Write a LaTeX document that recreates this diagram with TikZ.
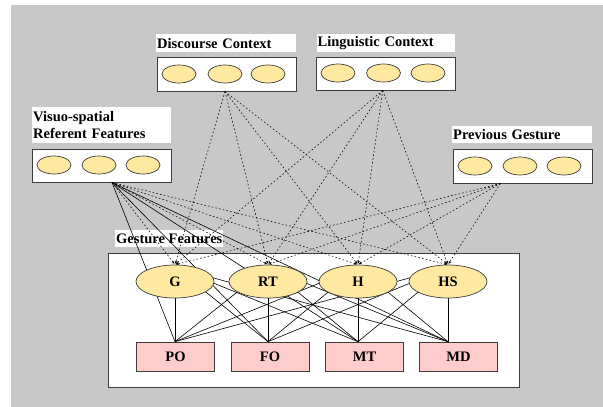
\documentclass[tikz,border=0pt]{standalone}
\usepackage{fontspec}
\setmainfont{Liberation Serif}
\usetikzlibrary{arrows.meta,shapes.geometric}
\definecolor{bggray}{RGB}{200,200,200}
\definecolor{ellfill}{RGB}{255,232,160}
\definecolor{recfill}{RGB}{255,204,204}
\definecolor{edge}{RGB}{60,60,60}
\tikzset{
  txt/.style={font=\bfseries\fontsize{14.5}{17.5}\selectfont},
  grp/.style={draw=edge, line width=1pt, fill=white, rectangle, inner sep=0pt},
  small/.style={ellipse, draw=edge, line width=0.7pt, fill=ellfill, minimum width=34pt, minimum height=18pt, inner sep=0pt},
  big/.style={ellipse, draw=edge, line width=0.7pt, fill=ellfill, minimum width=78pt, minimum height=33pt, inner sep=0pt, txt},
  recnode/.style={rectangle, draw=edge, line width=0.7pt, fill=recfill, minimum width=78pt, minimum height=29pt, inner sep=0pt, txt},
  lbl/.style={rectangle, fill=white, inner xsep=1pt, inner ysep=0pt, align=left, txt, anchor=north west},
  dashln/.style={line width=0.55pt, dash pattern=on 1.6pt off 2.2pt, -{Stealth[length=3pt,width=2.6pt]}, shorten >=1pt},
  solidln/.style={line width=0.6pt, black}
}
\begin{document}
\begin{tikzpicture}[x=1pt,y=-1pt]
\useasboundingbox (0,0) rectangle (603,407);
\fill[bggray] (11,5) rectangle (603,407);

% gesture features box
\node[grp, minimum width=411pt, minimum height=134pt] (gf) at (313.5,320) {};
\node[lbl, minimum height=17pt] (gfl) at (115,230) {Gesture Features};

% context boxes
\node[grp, minimum width=139pt, minimum height=34pt] (disc) at (226.5,74) {};
\node[grp, minimum width=138.5pt, minimum height=33pt] (ling) at (385.75,73.5) {};
\node[grp, minimum width=139pt, minimum height=33pt] (vs) at (101.5,165.5) {};
\node[grp, minimum width=139pt, minimum height=34pt] (pg) at (522.5,166) {};

\node[lbl, text width=138pt, minimum height=18pt] (discl) at (156,34) {Discourse Context};
\node[lbl, text width=136.5pt, minimum height=18pt] (lingl) at (316.5,34) {Linguistic Context};
\node[lbl, text width=137pt, minimum height=36pt] (vsl) at (32,107) {Visuo-spatial\\Referent Features};
\node[lbl, text width=138pt, minimum height=17pt] (pgl) at (452,126) {Previous Gesture};

% small ellipses
\node[small] (d1) at (179,74) {};
\node[small] (d2) at (225,74) {};
\node[small] (d3) at (268,74) {};
\node[small] (l1) at (338,73) {};
\node[small] (l2) at (383.5,73) {};
\node[small] (l3) at (428,73) {};
\node[small] (v1) at (54,165) {};
\node[small] (v2) at (99,165) {};
\node[small] (v3) at (143,165) {};
\node[small] (p1) at (475,166) {};
\node[small] (p2) at (520,166) {};
\node[small] (p3) at (564,166) {};

% source points
\coordinate (ds) at ([xshift=-1.5pt]disc.south);
\coordinate (ls) at ([xshift=-3pt]ling.south);
\coordinate (vss) at ([xshift=10.5pt]vs.south);
\coordinate (ps) at ([xshift=-22pt]pg.south);

% gesture nodes (positions)
\coordinate (Gc) at (175,281.5);
\coordinate (RTc) at (268,281.5);
\coordinate (Hc) at (358,281.5);
\coordinate (HSc) at (448,281.5);

\node[recnode] (PO) at (175.5,356.5) {PO};
\node[recnode] (FO) at (270,356.5) {FO};
\node[recnode] (MT) at (364.5,356.5) {MT};
\node[recnode] (MD) at (458.5,356.5) {MD};

\coordinate (POt) at (Gc |- PO.north);
\coordinate (FOt) at (RTc |- FO.north);
\coordinate (MTt) at (Hc |- MT.north);
\coordinate (MDt) at (HSc |- MD.north);

% solid lines from visuo-spatial
\foreach \t in {POt,FOt,MTt,MDt} \draw[solidln] (vss) -- (\t);

% ellipse to rect lines
\foreach \s in {Gc,RTc,Hc,HSc}
  \foreach \t in {POt,FOt,MTt,MDt}
    \draw[solidln] ([yshift=14pt]\s) -- (\t);

% gesture ellipses on top
\node[big] (G) at (Gc) {G};
\node[big] (RT) at (RTc) {RT};
\node[big] (H) at (Hc) {H};
\node[big] (HS) at (HSc) {HS};

% dashed influences
\foreach \s in {ds,ls,vss,ps}
  \foreach \t in {G,RT,H,HS}
    \draw[dashln] (\s) -- (\t.north);

\end{tikzpicture}
\end{document}
